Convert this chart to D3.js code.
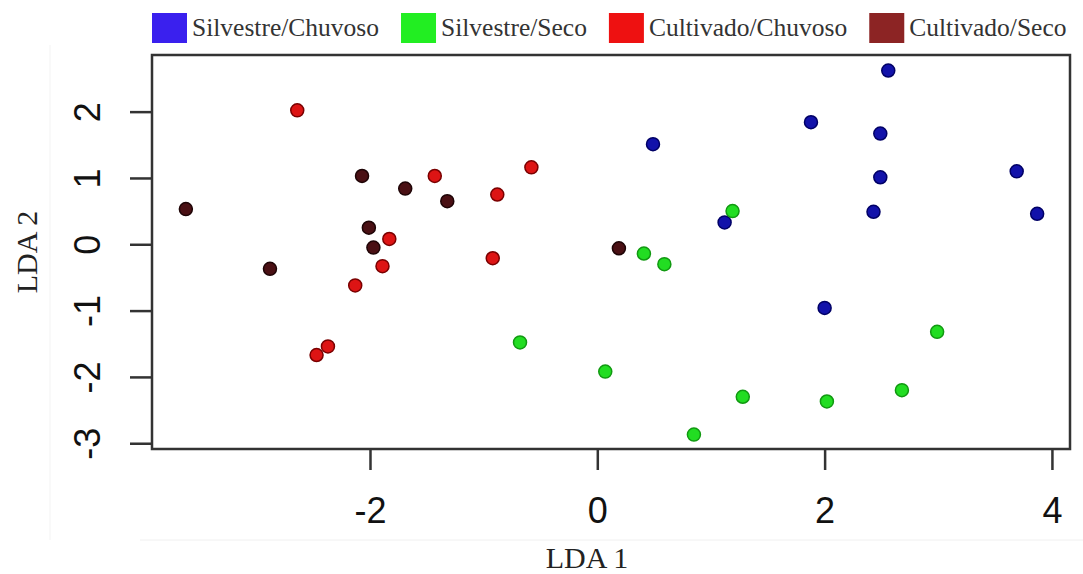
<!DOCTYPE html>
<html>
<head>
<meta charset="utf-8">
<script src="https://cdn.jsdelivr.net/npm/d3@7"></script>
<style>
  body { margin: 0; background: #fff; }
  svg { display: block; }
</style>
</head>
<body>
<div class="container"></div>
<script>
const width = 1083;
const height = 574;
const margin = { top: 55, right: 13, bottom: 125, left: 152 };

// groups, in legend order
const groups = ["Silvestre/Chuvoso", "Silvestre/Seco", "Cultivado/Chuvoso", "Cultivado/Seco"];
const legendColors = ["#3a20ee", "#22ee22", "#ee1111", "#8c2424"];
const pointColors = ["#1212aa", "#22dd22", "#dd1414", "#4a1014"];
const strokeColors = ["#000066", "#119911", "#7a0000", "#1e0406"];

// LDA scores
const silvChuvLD1 = [2.56, 1.88, 2.49, 0.49, 2.49, 2.43, 1.12, 2.00, 3.69, 3.87];
const silvChuvLD2 = [2.62, 1.84, 1.67, 1.51, 1.01, 0.49, 0.33, -0.96, 1.10, 0.46];

const silvSecoLD1 = [1.19, 0.41, 0.59, 2.99, -0.68, 0.07, 1.28, 2.02, 2.68, 0.85];
const silvSecoLD2 = [0.50, -0.14, -0.30, -1.32, -1.48, -1.92, -2.30, -2.37, -2.20, -2.87];

const cultChuvLD1 = [-2.64, -0.58, -1.43, -0.88, -1.83, -1.89, -0.92, -2.13, -2.37, -2.47];
const cultChuvLD2 = [2.02, 1.16, 1.03, 0.75, 0.08, -0.33, -0.21, -0.62, -1.54, -1.67];

const cultSecoLD1 = [-3.62, -2.07, -1.69, -1.32, -2.01, -1.97, -2.88, 0.19];
const cultSecoLD2 = [0.53, 1.03, 0.84, 0.65, 0.25, -0.05, -0.37, -0.06];

const xTicks = [-2, 0, 2, 4];
const yTicks = [-3, -2, -1, 0, 1, 2];

const series = [
  [silvChuvLD1, silvChuvLD2],
  [silvSecoLD1, silvSecoLD2],
  [cultChuvLD1, cultChuvLD2],
  [cultSecoLD1, cultSecoLD2]
];

const points = [];
series.forEach(([xs, ys], g) => {
  xs.forEach((x, i) => points.push({ g: g, x: x, y: ys[i] }));
});

const xScale = d3.scaleLinear()
  .domain([-3.918, 4.159])
  .range([margin.left, width - margin.right]);

const yScale = d3.scaleLinear()
  .domain([-3.087, 2.854])
  .range([height - margin.bottom, margin.top]);

const svg = d3.select(".container")
  .append("svg")
  .attr("width", width)
  .attr("height", height);

// faint scan edges seen in the original
svg.append("line")
  .attr("x1", 140).attr("x2", width).attr("y1", 540).attr("y2", 540)
  .attr("stroke", "#f0f0f0");
svg.append("line")
  .attr("x1", 50).attr("x2", 50).attr("y1", 45).attr("y2", 540)
  .attr("stroke", "#f3f3f3");

const plotBottom = height - margin.bottom;

// x axis
const xAxis = svg.append("g")
  .attr("transform", `translate(0, ${plotBottom})`)
  .call(d3.axisBottom(xScale).tickValues(xTicks).tickSize(21).tickPadding(27).tickFormat(d3.format("d")));
xAxis.select(".domain").remove();
xAxis.selectAll("line").attr("stroke", "#333").attr("stroke-width", 2.5);
xAxis.selectAll("text")
  .attr("font-family", "Liberation Sans, Arial, sans-serif")
  .attr("font-size", 36)
  .attr("fill", "#111")
  .text(d => d < 0 ? "-" + Math.abs(d) : d);

// y axis with rotated labels
const yAxis = svg.append("g")
  .attr("transform", `translate(${margin.left}, 0)`)
  .call(d3.axisLeft(yScale).tickValues(yTicks).tickSize(22));
yAxis.select(".domain").remove();
yAxis.selectAll("line").attr("stroke", "#333").attr("stroke-width", 2.5);
yAxis.selectAll("text")
  .attr("x", null).attr("dy", null)
  .attr("text-anchor", "middle")
  .attr("transform", "translate(-52, 0) rotate(-90)")
  .attr("font-family", "Liberation Sans, Arial, sans-serif")
  .attr("font-size", 36)
  .attr("fill", "#111")
  .text(d => d < 0 ? "-" + Math.abs(d) : d);

// plot box
svg.append("rect")
  .attr("x", margin.left)
  .attr("y", margin.top)
  .attr("width", width - margin.right - margin.left)
  .attr("height", plotBottom - margin.top)
  .attr("fill", "none")
  .attr("stroke", "#333")
  .attr("stroke-width", 2.5);

// points
svg.append("g")
  .selectAll("circle")
  .data(points)
  .join("circle")
  .attr("cx", d => xScale(d.x))
  .attr("cy", d => yScale(d.y))
  .attr("r", 6.5)
  .attr("fill", d => pointColors[d.g])
  .attr("stroke", d => strokeColors[d.g])
  .attr("stroke-width", 1.5);

// axis titles
svg.append("text")
  .attr("x", 587)
  .attr("y", 568)
  .attr("text-anchor", "middle")
  .attr("font-family", "Liberation Serif, Times New Roman, serif")
  .attr("font-size", 30)
  .attr("fill", "#222")
  .text("LDA 1");

svg.append("text")
  .attr("transform", "translate(37, 252) rotate(-90)")
  .attr("text-anchor", "middle")
  .attr("font-family", "Liberation Serif, Times New Roman, serif")
  .attr("font-size", 30)
  .attr("fill", "#222")
  .text("LDA 2");

// legend across the top
const legend = svg.append("g");
let lx = margin.left;
groups.forEach((name, i) => {
  legend.append("rect")
    .attr("x", lx).attr("y", 13)
    .attr("width", 35).attr("height", 30)
    .attr("fill", legendColors[i]);
  const t = legend.append("text")
    .attr("x", lx + 40)
    .attr("y", 36)
    .attr("font-family", "Liberation Serif, Times New Roman, serif")
    .attr("font-size", 25.5)
    .attr("fill", "#333")
    .text(name);
  lx += 40 + t.node().getComputedTextLength() + 22;
});
</script>
</body>
</html>
